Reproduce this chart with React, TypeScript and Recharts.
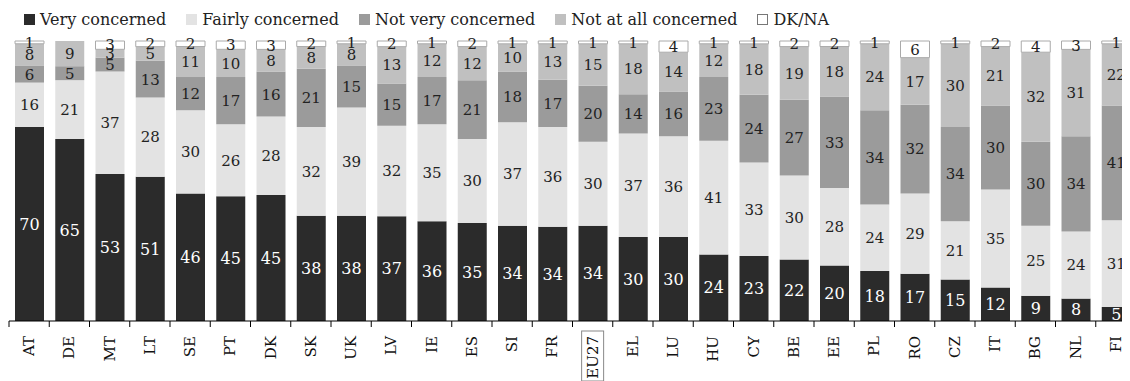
import { BarChart, Bar, XAxis, YAxis, LabelList } from "recharts";

const categories = ["AT", "DE", "MT", "LT", "SE", "PT", "DK", "SK", "UK", "LV", "IE", "ES", "SI", "FR", "EU27", "EL", "LU", "HU", "CY", "BE", "EE", "PL", "RO", "CZ", "IT", "BG", "NL", "FI"];
const veryConcerned = [70, 65, 53, 51, 46, 45, 45, 38, 38, 37, 36, 35, 34, 34, 34, 30, 30, 24, 23, 22, 20, 18, 17, 15, 12, 9, 8, 5];
const fairlyConcerned = [16, 21, 37, 28, 30, 26, 28, 32, 39, 32, 35, 30, 37, 36, 30, 37, 36, 41, 33, 30, 28, 24, 29, 21, 35, 25, 24, 31];
const notVeryConcerned = [6, 5, 5, 13, 12, 17, 16, 21, 15, 15, 17, 21, 18, 17, 20, 14, 16, 23, 24, 27, 33, 34, 32, 34, 30, 30, 34, 41];
const notAtAllConcerned = [8, 9, 3, 5, 11, 10, 8, 8, 8, 13, 12, 12, 10, 13, 15, 18, 14, 12, 18, 19, 18, 24, 17, 30, 21, 32, 31, 22];
const dkNa = [1, 0, 3, 2, 2, 3, 3, 2, 1, 2, 1, 2, 1, 1, 1, 1, 4, 1, 1, 2, 2, 1, 6, 1, 2, 4, 3, 1];

const data = categories.map((c, i) => ({
  country: c,
  very: veryConcerned[i],
  fairly: fairlyConcerned[i],
  notVery: notVeryConcerned[i],
  notAtAll: notAtAllConcerned[i],
  dk: dkNa[i],
}));

const FONT = "'DejaVu Serif', Georgia, serif";

const series = [
  { key: "very", name: "Very concerned", color: "#2b2b2b", text: "#ffffff" },
  { key: "fairly", name: "Fairly concerned", color: "#e3e3e3", text: "#222222" },
  { key: "notVery", name: "Not very concerned", color: "#9b9b9b", text: "#222222" },
  { key: "notAtAll", name: "Not at all concerned", color: "#c0c0c0", text: "#222222" },
  { key: "dk", name: "DK/NA", color: "#ffffff", text: "#222222" },
];

const CHART_W = 1130;
const CHART_H = 373;
const MARGIN = { top: 33, right: 2, left: 1, bottom: 0 };
const BAND = (CHART_W - MARGIN.left - MARGIN.right) / categories.length;

function CountryTick(props: any) {
  const { x, y, payload } = props;
  const tx = x;
  const ty = y + 15;
  const isEU = payload.value === "EU27";
  return (
    <g>
      <line x1={x - BAND / 2} x2={x - BAND / 2} y1={y} y2={y + 6} stroke="#000" strokeWidth={1} />
      {isEU && (
        <rect x={x - 11} y={y + 10} width={22} height={50} fill="none" stroke="#888" strokeWidth={1} />
      )}
      <text
        x={tx}
        y={ty}
        transform={`rotate(-90, ${tx}, ${ty})`}
        textAnchor="end"
        dominantBaseline="central"
        fontFamily={FONT}
        fontSize={15}
        fill="#111"
      >
        {payload.value}
      </text>
    </g>
  );
}

export default function App() {
  return (
    <div style={{ position: "relative", width: 1122, height: CHART_H, overflow: "hidden" }}>
      <div
        style={{
          position: "absolute",
          top: 0,
          left: 16,
          height: 22,
          display: "flex",
          alignItems: "center",
          gap: 20,
          fontFamily: FONT,
          fontSize: 16,
          color: "#222",
          whiteSpace: "nowrap",
        }}
      >
        {series.map((s) => (
          <div key={s.key} style={{ display: "flex", alignItems: "center" }}>
            <span
              style={{
                display: "inline-block",
                width: s.key === "dk" ? 9 : 11,
                height: s.key === "dk" ? 9 : 11,
                background: s.color,
                border: s.key === "dk" ? "1px solid #777" : "none",
                marginRight: 5,
              }}
            />
            <span>{s.name}</span>
          </div>
        ))}
      </div>
      <BarChart
        width={CHART_W}
        height={CHART_H}
        data={data}
        margin={MARGIN}
        stackOffset="expand"
        barSize={29}
      >
        <XAxis
          dataKey="country"
          interval={0}
          height={60}
          tickSize={0}
          tickMargin={0}
          tickLine={false}
          axisLine={{ stroke: "#000", strokeWidth: 1 }}
          tick={<CountryTick />}
        />
        <YAxis hide domain={[0, 1]} />
        {series.map((s) => (
          <Bar
            key={s.key}
            dataKey={s.key}
            stackId="a"
            fill={s.color}
            stroke={s.key === "dk" ? "#aaaaaa" : "none"}
            strokeWidth={s.key === "dk" ? 1 : 0}
            isAnimationActive={false}
          >
            <LabelList
              dataKey={s.key}
              position="center"
              fill={s.text}
              fontFamily={FONT}
              fontSize={s.key === "very" ? 16 : 15}
            />
          </Bar>
        ))}
      </BarChart>
    </div>
  );
}
